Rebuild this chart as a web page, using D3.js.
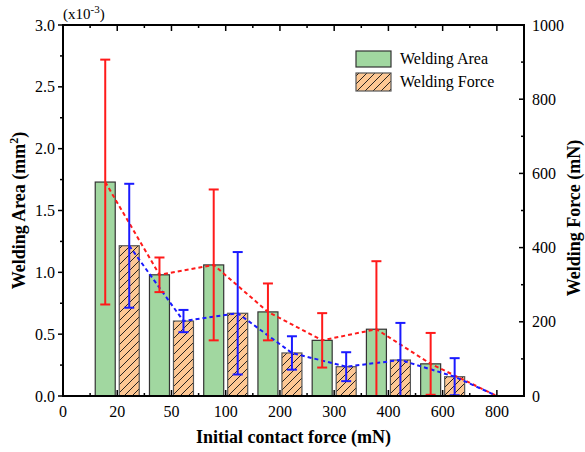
<!DOCTYPE html>
<html><head><meta charset="utf-8">
<script src="https://cdn.jsdelivr.net/npm/d3@7"></script>
<style>body{margin:0;background:#fff}svg{display:block}</style></head>
<body><svg id="c" width="585" height="452"></svg>
<script>
const tickLabels = ["0","20","50","100","200","300","400","600","800"];
const forces = ["20","50","100","200","300","400","600","800"];
const areaValues = [1.73,0.98,1.06,0.68,0.45,0.54,0.26,0];
const areaErrors = [0.99,0.14,0.61,0.23,0.22,0.55,0.25,0];
const forceValues = [405,202,223,116,79,97,52,0];
const forceErrors = [167,30,165,45,39,100,50,0];
const leftTicks = [0,0.5,1.0,1.5,2.0,2.5,3.0];
const rightTicks = [0,200,400,600,800,1000];

const svg = d3.select("#c");
const L=63,R=524,T=25,B=396;
const FONT="Liberation Serif, Times New Roman, serif";
const x = d3.scaleLinear().domain([0,8.5]).range([L,R]);
const yL = d3.scaleLinear().domain([0,3.0]).range([B,T]);
const yR = d3.scaleLinear().domain([0,1000]).range([B,T]);
const catX = f => x(tickLabels.indexOf(f));
const off = 12, bw = 20;

const defs = svg.append("defs");
const pat = defs.append("pattern").attr("id","hatch").attr("patternUnits","userSpaceOnUse")
  .attr("width",8).attr("height",8);
pat.append("rect").attr("width",8).attr("height",8).attr("fill","#fdc793");
pat.append("path").attr("d","M-2,2 L2,-2 M0,8 L8,0 M6,10 L10,6").attr("stroke","#111").attr("stroke-width",0.9);
defs.append("clipPath").attr("id","clip").append("rect").attr("x",L).attr("y",T).attr("width",R-L).attr("height",B-T);

const area = forces.map((f,i)=>({f,v:areaValues[i],e:areaErrors[i]}));
const force = forces.map((f,i)=>({f,v:forceValues[i],e:forceErrors[i]}));

const plot = svg.append("g").attr("clip-path","url(#clip)");
plot.selectAll(".ga").data(area.filter(d=>d.v>0)).join("rect")
  .attr("x",d=>catX(d.f)-off-bw/2).attr("width",bw)
  .attr("y",d=>yL(d.v)).attr("height",d=>B-yL(d.v))
  .attr("fill","#a1d7a0").attr("stroke","#333").attr("stroke-width",1.2);
plot.selectAll(".gf").data(force.filter(d=>d.v>0)).join("rect")
  .attr("x",d=>catX(d.f)+off-bw/2).attr("width",bw)
  .attr("y",d=>yR(d.v)).attr("height",d=>B-yR(d.v))
  .attr("fill","url(#hatch)").attr("stroke","#555").attr("stroke-width",1.2);

const px = (d,o)=> d.v>0 ? catX(d.f)+o : catX(d.f);
plot.append("path").datum(area).attr("fill","none").attr("stroke","#ff1a1a").attr("stroke-width",2)
  .attr("stroke-dasharray","4,3")
  .attr("d",d3.line().x(d=>px(d,-off)).y(d=>yL(d.v)));
plot.append("path").datum(force).attr("fill","none").attr("stroke","#1a1aff").attr("stroke-width",2)
  .attr("stroke-dasharray","4,3")
  .attr("d",d3.line().x(d=>px(d,off)).y(d=>yR(d.v)));

function errs(data, y, o, color){
  const g = plot.append("g").attr("stroke",color).attr("stroke-width",2);
  data.filter(d=>d.e>0).forEach(d=>{
    const cx = catX(d.f)+o, y1=y(d.v+d.e), y0=y(d.v-d.e);
    g.append("line").attr("x1",cx).attr("x2",cx).attr("y1",y1).attr("y2",y0);
    g.append("line").attr("x1",cx-5).attr("x2",cx+5).attr("y1",y1).attr("y2",y1);
    g.append("line").attr("x1",cx-5).attr("x2",cx+5).attr("y1",y0).attr("y2",y0);
  });
}
errs(area,yL,-off,"#ff1a1a");
errs(force,yR,off,"#1a1aff");

const ax = svg.append("g").style("font-family",FONT).attr("font-size",16).attr("fill","#000");
const majX = d3.range(0,9), minX = d3.range(0.5,8.6,1);
function tick(x1,y1,x2,y2){ax.append("line").attr("x1",x1).attr("y1",y1).attr("x2",x2).attr("y2",y2).attr("stroke","#000").attr("stroke-width",1.5);}
majX.forEach(i=>{tick(x(i),B,x(i),B-6);tick(x(i),T,x(i),T+6);});
minX.forEach(i=>{tick(x(i),B,x(i),B-3);tick(x(i),T,x(i),T+3);});
tickLabels.forEach((t,i)=>ax.append("text").attr("x",x(i)).attr("y",B+21).attr("text-anchor","middle").text(t));
leftTicks.forEach(v=>{tick(L,yL(v),L-5,yL(v)); ax.append("text").attr("x",L-8).attr("y",yL(v)+5.5).attr("text-anchor","end").text(v.toFixed(1));});
d3.range(0.25,3,0.5).forEach(v=>tick(L,yL(v),L-3,yL(v)));
rightTicks.forEach(v=>{tick(R,yR(v),R-5,yR(v)); ax.append("text").attr("x",R+8).attr("y",yR(v)+5.5).text(v);});
d3.range(100,1000,200).forEach(v=>tick(R,yR(v),R-3,yR(v)));
svg.append("rect").attr("x",L).attr("y",T).attr("width",R-L).attr("height",B-T).attr("fill","none").attr("stroke","#000").attr("stroke-width",2);

const m = ax.append("text").attr("x",L).attr("y",19).attr("font-size",15);
m.append("tspan").text("(x10");
m.append("tspan").attr("dy",-6).attr("font-size",11).text("-3");
m.append("tspan").attr("dy",6).text(")");

ax.append("text").attr("x",(L+R)/2).attr("y",443).attr("text-anchor","middle").attr("font-weight","bold").attr("font-size",18).text("Initial contact force (mN)");
const yt = ax.append("text").attr("transform",`translate(25,${(T+B)/2}) rotate(-90)`).attr("text-anchor","middle").attr("font-weight","bold").attr("font-size",18);
yt.append("tspan").text("Welding Area (mm");
yt.append("tspan").attr("dy",-7).attr("font-size",12).text("2");
yt.append("tspan").attr("dy",7).text(")");
ax.append("text").attr("transform",`translate(580,218) rotate(-90)`).attr("text-anchor","middle").attr("font-weight","bold").attr("font-size",18).text("Welding Force (mN)");

const lg = svg.append("g").style("font-family",FONT).attr("font-size",16);
lg.append("rect").attr("x",356).attr("y",51).attr("width",35).attr("height",16).attr("fill","#a1d7a0").attr("stroke","#333").attr("stroke-width",1.2);
lg.append("rect").attr("x",356).attr("y",73).attr("width",35).attr("height",18).attr("fill","url(#hatch)").attr("stroke","#555").attr("stroke-width",1.2);
lg.append("text").attr("x",400).attr("y",64).text("Welding Area");
lg.append("text").attr("x",400).attr("y",87).text("Welding Force");
</script></body></html>
